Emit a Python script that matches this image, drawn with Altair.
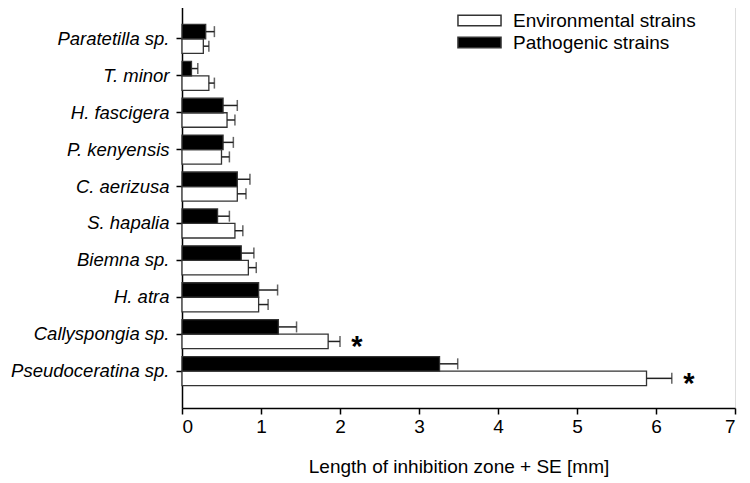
import altair as alt
import pandas as pd

species = ["Paratetilla sp.", "T. minor", "H. fascigera", "P. kenyensis", "C. aerizusa",
           "S. hapalia", "Biemna sp.", "H. atra", "Callyspongia sp.", "Pseudoceratina sp."]
env_mean = [0.27, 0.34, 0.57, 0.50, 0.70, 0.67, 0.84, 0.97, 1.85, 5.88]
env_se = [0.07, 0.07, 0.10, 0.10, 0.11, 0.10, 0.10, 0.12, 0.15, 0.32]
path_mean = [0.30, 0.12, 0.52, 0.52, 0.70, 0.45, 0.75, 0.97, 1.22, 3.26]
path_se = [0.11, 0.08, 0.18, 0.13, 0.16, 0.15, 0.16, 0.24, 0.23, 0.23]
env_sig = [False, False, False, False, False, False, False, False, True, True]
path_sig = [False] * 10
strains = ["Environmental strains", "Pathogenic strains"]
x_ticks = [0, 1, 2, 3, 4, 5, 6, 7]

rows = []
for i, sp in enumerate(species):
    rows.append({"species": sp, "strain": strains[0], "mean": env_mean[i],
                 "hi": env_mean[i] + env_se[i], "sig": "*" if env_sig[i] else ""})
    rows.append({"species": sp, "strain": strains[1], "mean": path_mean[i],
                 "hi": path_mean[i] + path_se[i], "sig": "*" if path_sig[i] else ""})
df = pd.DataFrame(rows)

FONT = "Liberation Sans"
INK = "#222222"
FS = 19

y_enc = alt.Y("species:N", sort=species, title=None,
              scale=alt.Scale(domain=species, paddingInner=0, paddingOuter=0.5),
              axis=alt.Axis(labelFont=FONT, labelFontSize=18.5, labelFontStyle="italic",
                            labelColor="black", labelPadding=7, tickSize=6, tickWidth=1.5,
                            tickColor="black", domainColor="black", domainWidth=1.5,
                            grid=False, labelLimit=300))
yoff_enc = alt.YOffset("strain:N",
                       scale=alt.Scale(domain=[strains[1], strains[0]],
                                       paddingInner=0, paddingOuter=0.27))
x_scale = alt.Scale(domain=[0, 7], nice=False)

base = alt.Chart(df)

bars = base.mark_bar(stroke="#333333", strokeWidth=1.3).encode(
    x=alt.X("mean:Q", scale=x_scale, title="Length of inhibition zone + SE [mm]",
            axis=alt.Axis(values=x_ticks, format="d", labelFont=FONT, labelFontSize=FS,
                          labelColor="black", labelPadding=3, tickSize=6, tickWidth=1.5,
                          tickColor="black", domainColor="black", domainWidth=1.5,
                          grid=False, titleFont=FONT, titleFontSize=FS,
                          titleFontWeight="normal", titleColor="black", titlePadding=21)),
    y=y_enc,
    yOffset=yoff_enc,
    fill=alt.Fill("strain:N",
                  scale=alt.Scale(domain=strains, range=["white", "black"]),
                  legend=alt.Legend(title=None, orient="none", legendX=286, legendY=7,
                                    symbolType="M-2.05,-0.49H2.05V0.49H-2.05Z",
                                    symbolSize=441, symbolStrokeColor="#333333",
                                    symbolStrokeWidth=1.5, labelFont=FONT,
                                    labelFontSize=FS, labelColor="black", labelOffset=22,
                                    labelLimit=400, rowPadding=-2, padding=0)),
)

err = base.mark_rule(color=INK, strokeWidth=1.5).encode(
    x=alt.X("mean:Q", scale=x_scale),
    x2="hi:Q",
    y=alt.Y("species:N", sort=species),
    yOffset=yoff_enc,
)

caps = base.mark_tick(color=INK, thickness=1.5, size=11).encode(
    x=alt.X("hi:Q", scale=x_scale),
    y=alt.Y("species:N", sort=species),
    yOffset=yoff_enc,
)

stars = base.transform_filter(alt.datum.sig == "*").mark_text(
    font=FONT, fontSize=29, fontWeight="bold", color="black",
    align="center", baseline="alphabetic", dx=17, dy=15
).encode(
    x=alt.X("hi:Q", scale=x_scale),
    y=alt.Y("species:N", sort=species),
    yOffset=yoff_enc,
    text="sig:N",
)

chart = alt.layer(bars, err, caps, stars).properties(
    width=553, height=406,
    autosize=alt.AutoSizeParams(type="none"),
    padding={"left": 174, "top": -6, "right": 7, "bottom": 70},
).configure_view(strokeWidth=0).configure(background="white")

chart.save("out.html", embed_options={"renderer": "svg", "actions": False})
